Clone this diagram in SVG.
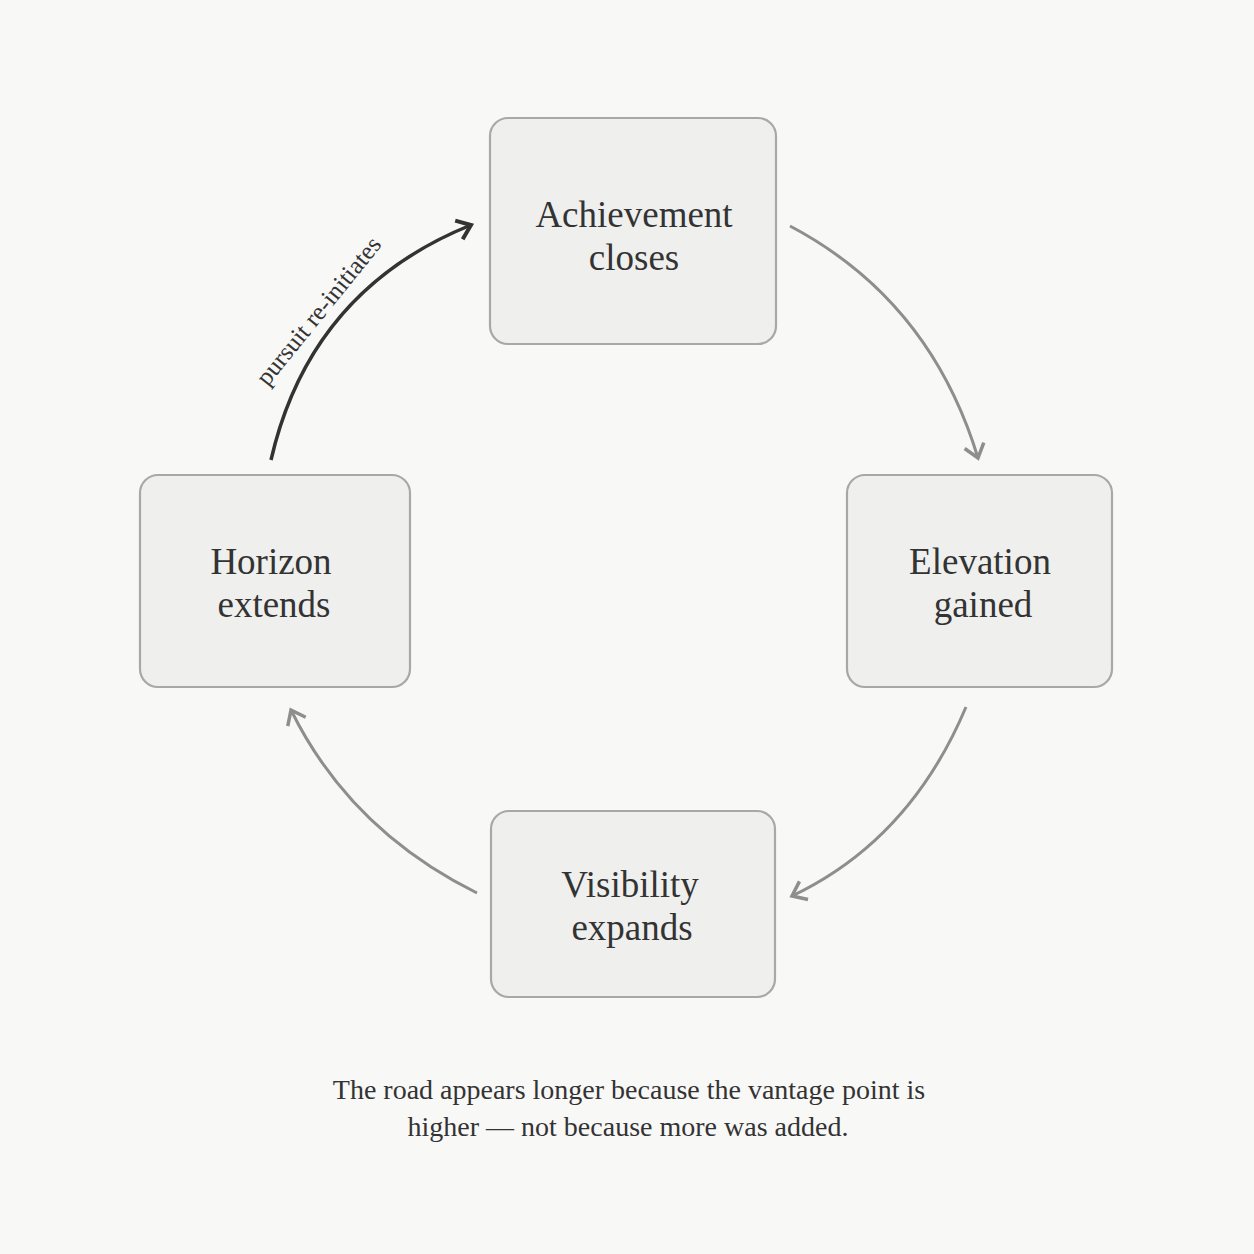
<svg xmlns="http://www.w3.org/2000/svg" width="1254" height="1254" viewBox="0 0 1254 1254">
<style>
.box{fill:#efefed;stroke:#a8a8a6;stroke-width:2.2}
.t{font-family:"Liberation Serif","DejaVu Serif",serif;font-size:37px;fill:#333;text-anchor:middle}
.c{font-family:"Liberation Serif","DejaVu Serif",serif;font-size:28px;fill:#333;text-anchor:middle}
.e{fill:none;stroke:#8e8e8c;stroke-width:3}
.d{fill:none;stroke:#333;stroke-width:3.5}
</style>
<defs>
<marker id="ag" viewBox="-20 -20 40 40" refX="0" refY="0" markerWidth="40" markerHeight="40" orient="auto" markerUnits="userSpaceOnUse"><path d="M-13,-10 L0,0 L-13,10" fill="none" stroke="#8e8e8c" stroke-width="3.5" stroke-linejoin="miter"/></marker>
<marker id="ad" viewBox="-20 -20 40 40" refX="0" refY="0" markerWidth="40" markerHeight="40" orient="auto" markerUnits="userSpaceOnUse"><path d="M-13,-10 L0,0 L-13,10" fill="none" stroke="#333" stroke-width="4" stroke-linejoin="miter"/></marker>
</defs>
<rect width="1254" height="1254" fill="#f8f8f7"/>
<g id="connectors">
<path class="e" d="M790,226 Q930,300 978,458" marker-end="url(#ag)"/>
<path class="e" d="M966,707 Q910,840 792,896" marker-end="url(#ag)"/>
<path class="e" d="M477,893 Q350,830 291,710" marker-end="url(#ag)"/>
<path class="d" d="M271,460 Q310,290 471,225" marker-end="url(#ad)"/>
<text font-family="Liberation Serif,serif" font-size="25" fill="#333" text-anchor="middle" transform="translate(325,316) rotate(-51)">pursuit re-initiates</text>
</g>
<g id="achievement"><rect class="box" x="490" y="118" width="286" height="226" rx="18"/><text class="t" x="634" y="227">Achievement</text><text class="t" x="634" y="270">closes</text></g>
<g id="elevation"><rect class="box" x="847" y="475" width="265" height="212" rx="18"/><text class="t" x="980" y="574">Elevation</text><text class="t" x="983" y="617">gained</text></g>
<g id="visibility"><rect class="box" x="491" y="811" width="284" height="186" rx="18"/><text class="t" x="630" y="897">Visibility</text><text class="t" x="632" y="940">expands</text></g>
<g id="horizon"><rect class="box" x="140" y="475" width="270" height="212" rx="18"/><text class="t" x="271" y="574">Horizon</text><text class="t" x="274" y="617">extends</text></g>
<g id="caption"><text class="c" x="629" y="1099">The road appears longer because the vantage point is</text><text class="c" x="628" y="1136">higher — not because more was added.</text></g>
</svg>
